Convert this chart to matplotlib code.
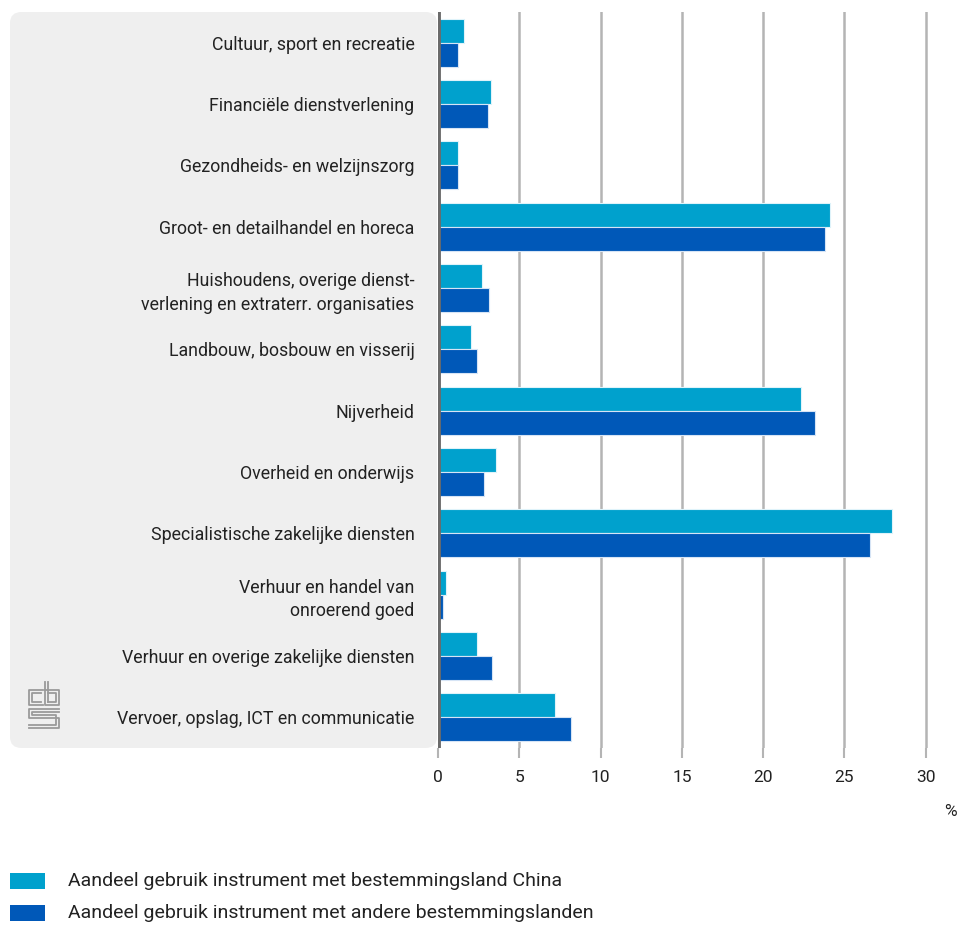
import numpy as np
import matplotlib.pyplot as plt
from matplotlib.patches import FancyBboxPatch
from matplotlib.lines import Line2D

plt.rcParams['font.family'] = ['Roboto', 'DejaVu Sans']

categories = [
    "Cultuur, sport en recreatie",
    "Financiële dienstverlening",
    "Gezondheids- en welzijnszorg",
    "Groot- en detailhandel en horeca",
    "Huishoudens, overige dienst-\nverlening en extraterr. organisaties",
    "Landbouw, bosbouw en visserij",
    "Nijverheid",
    "Overheid en onderwijs",
    "Specialistische zakelijke diensten",
    "Verhuur en handel van\nonroerend goed",
    "Verhuur en overige zakelijke diensten",
    "Vervoer, opslag, ICT en communicatie",
]
china = [1.6, 3.25, 1.25, 24.1, 2.7, 2.0, 22.35, 3.55, 27.95, 0.5, 2.4, 7.2]
andere = [1.25, 3.05, 1.25, 23.8, 3.15, 2.4, 23.2, 2.85, 26.6, 0.3, 3.35, 8.15]
ticks = [0, 5, 10, 15, 20, 25, 30]
legend_labels = ["Aandeel gebruik instrument met bestemmingsland China",
                 "Aandeel gebruik instrument met andere bestemmingslanden"]

c_china = '#00a1cd'
c_andere = '#0058b8'

W, H = 959, 925
fig = plt.figure(figsize=(W / 100, H / 100), dpi=100)

# grey label panel
panel = FancyBboxPatch((10 / W, 1 - 748 / H), (437 - 10) / W, (748 - 12) / H,
                       boxstyle="round,pad=0,rounding_size=0.012",
                       transform=fig.transFigure, facecolor='#efefef',
                       edgecolor='none', zorder=-5)
fig.patches.append(panel)

ax = fig.add_axes([438 / W, 1 - 748 / H, (942 - 438) / W, (748 - 12) / H])
ax.patch.set_alpha(0)

y = np.arange(len(categories))
h = 0.39
ax.barh(y - h / 2, china, height=h, color=c_china, edgecolor='#dff3fa', linewidth=0.8, zorder=3)
ax.barh(y + h / 2, andere, height=h, color=c_andere, edgecolor='#d6e4f5', linewidth=0.8, zorder=3)

ax.set_xlim(0, 31)
ax.set_ylim(len(categories) - 0.5, -0.5)

for t in ticks[1:]:
    ax.axvline(t, color='#b4b4b4', lw=1.8, zorder=1)
ax.axvline(0, color='#6b6b6b', lw=3.5, zorder=4)

for s in ax.spines.values():
    s.set_visible(False)

ax.set_xticks(ticks)
ax.set_xticklabels([str(t) for t in ticks], fontsize=12.5, color='#222222')
ax.tick_params(axis='x', length=7, width=1.5, color='#b4b4b4', pad=9)
ax.set_yticks(y)
ax.set_yticklabels(categories, fontsize=12.8, color='#222222', linespacing=1.4)
ax.tick_params(axis='y', length=0, pad=17)
for lab in ax.get_yticklabels():
    lab.set_horizontalalignment('right')

fig.text(950 / W, 1 - 812 / H, '%', fontsize=12.5, color='#222222', ha='center', va='center')

# legend
for i, (lab, col) in enumerate(zip(legend_labels, [c_china, c_andere])):
    yc = 881 + 32 * i
    fig.patches.append(plt.Rectangle((10 / W, 1 - (yc + 8) / H), 35 / W, 16 / H,
                                     transform=fig.transFigure, facecolor=col, edgecolor='none'))
    fig.text(68 / W, 1 - yc / H, lab, fontsize=14, color='#222222', va='center', ha='left')

# cbs logo (rough)
def px(xs, ys):
    return [x / W for x in xs], [1 - v / H for v in ys]

logo = [
    ([43, 29, 29, 43], [690, 690, 705, 705]),
    ([41, 32, 32, 41], [693, 693, 702, 702]),
    ([45, 45, 59, 59, 45], [682, 705, 705, 690, 690]),
    ([48, 48], [682, 702]),
    ([48, 56, 56, 48], [693, 693, 702, 702]),
    ([59, 29, 29, 59, 59, 29], [709, 709, 718, 718, 728, 728]),
    ([59, 32, 32, 56, 56, 29], [712, 712, 715, 715, 725, 725]),
]
for xs, ys in logo:
    xx, yy = px(xs, ys)
    fig.add_artist(Line2D(xx, yy, transform=fig.transFigure, color='#9a9a9a', lw=1.3))

fig.savefig('out.png', dpi=100)
